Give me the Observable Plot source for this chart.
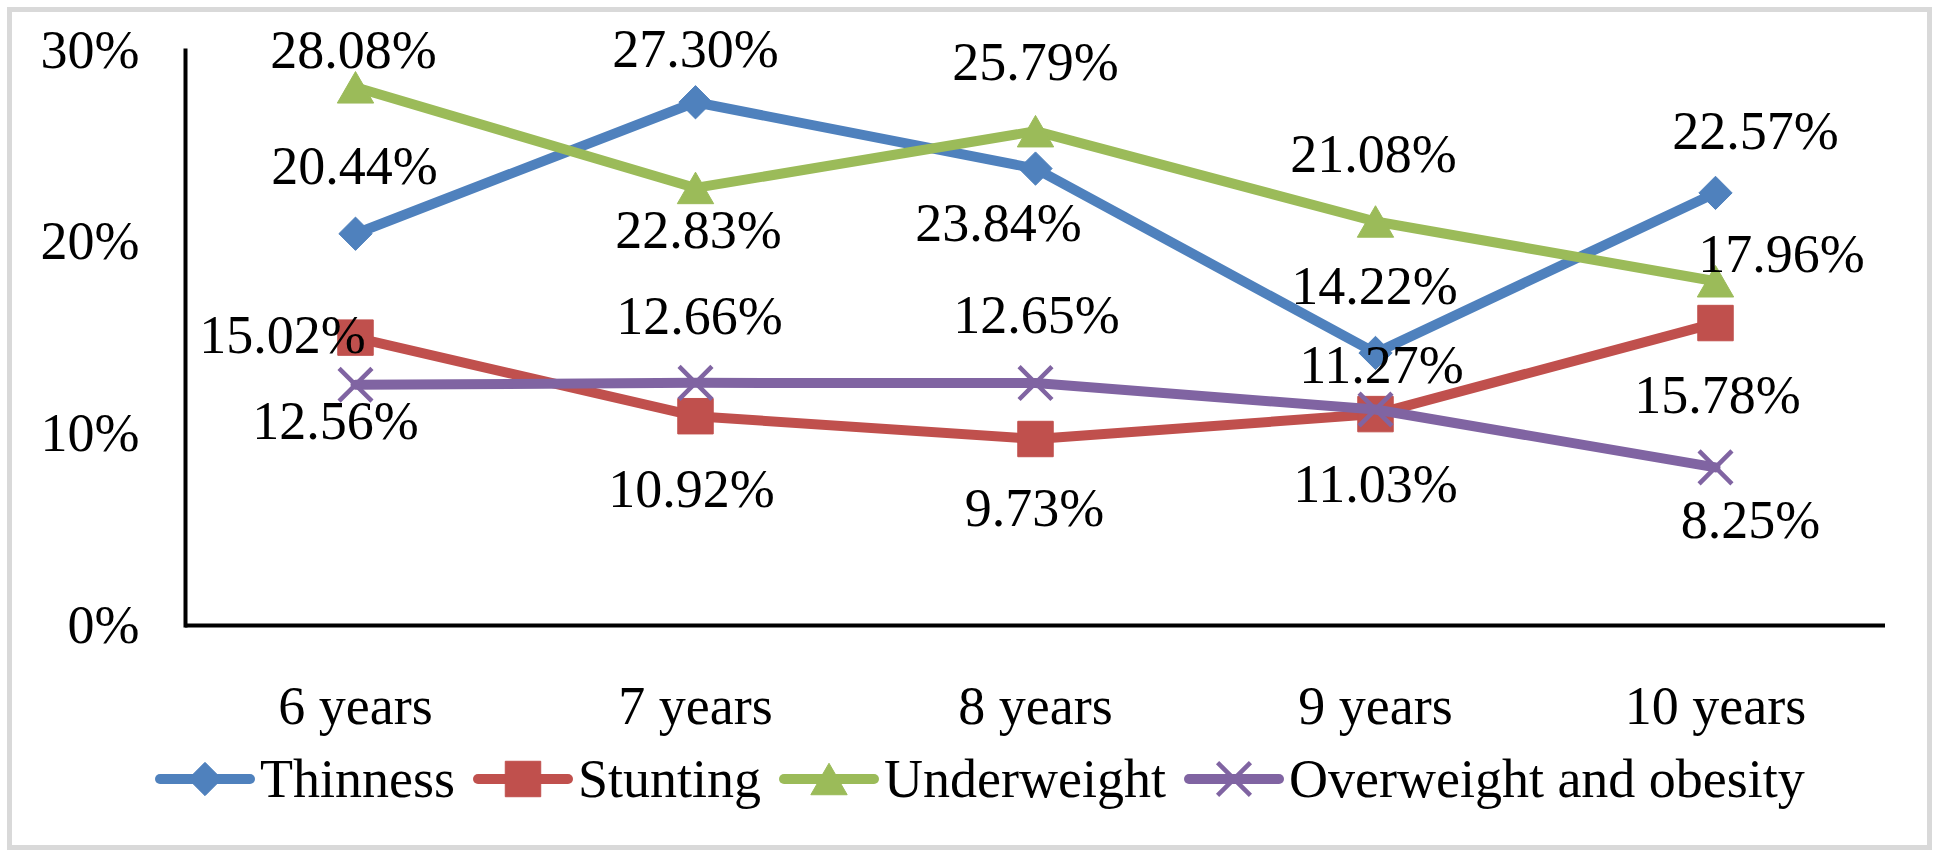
<!DOCTYPE html>
<html><head><meta charset="utf-8">
<script src="https://cdn.jsdelivr.net/npm/d3@7"></script>
<script src="https://cdn.jsdelivr.net/npm/@observablehq/plot@0.6"></script>
<style>
html,body{margin:0;padding:0;background:#fff;width:1937px;height:857px;overflow:hidden;font-family:"Liberation Serif","Times New Roman",serif;}
#border{position:absolute;left:7px;top:7px;width:1925px;height:843px;box-sizing:border-box;border:5px solid #d9d9d9;}
#chart{position:absolute;left:0;top:0;}
#legend{position:absolute;left:155px;top:751px;height:56px;display:flex;align-items:center;font-size:54px;line-height:56px;white-space:nowrap;color:#000;}
.item{display:flex;align-items:center;margin-right:18px;}
.item svg{margin-right:5px;display:block;}
</style></head><body>
<div id="border"></div><div id="chart"></div><div id="legend"></div>
<script>
// ---- data ----
const categories = ["6 years", "7 years", "8 years", "9 years", "10 years"];
const seriesNames = ["Thinness", "Stunting", "Underweight", "Overweight and obesity"];
const thinness = [20.44, 27.30, 23.84, 14.22, 22.57];
const stunting = [15.02, 10.92, 9.73, 11.03, 15.78];
const underweight = [28.08, 22.83, 25.79, 21.08, 17.96];
const overweight = [12.56, 12.66, 12.65, 11.27, 8.25];
const yTicks = [0, 10, 20, 30];
const yTickLabels = ["0%", "10%", "20%", "30%"];

// ---- styling / layout ----
const seriesValues = [thinness, stunting, underweight, overweight];
const styles = {
  "Thinness": {color: "#4F81BD", symbol: "diamond2", r: 15, dy: 0},
  "Stunting": {color: "#C0504D", symbol: "square", r: 20, dy: 0},
  "Underweight": {color: "#9BBB59", symbol: "triangle", r: 13.5, dy: 5.25},
  "Overweight and obesity": {color: "#8064A2", symbol: "times", r: 15, dy: 0}
};
// data label offsets (dx, baseline dy) relative to each point, as placed in the original
const labelOffsets = {
  "Thinness": [[-1, -50], [0, -35], [-37, 72], [-1, -49], [40, -44]],
  "Stunting": [[-73, 15], [-4, 91], [-1, 87], [0, 88], [2, 90]],
  "Underweight": [[-2, -19], [3, 60], [0, -51], [-2, -49], [66, -9]],
  "Overweight and obesity": [[-20, 54], [4, -49], [1, -50], [6, -26], [35, 71]]
};
const FONT = "Liberation Serif, Times New Roman, serif";
const FS = 54;

const rows = [];
seriesNames.forEach((s, i) => categories.forEach((c, j) => rows.push({series: s, cat: c, value: seriesValues[i][j], j})));

const marks = [
  Plot.ruleY([0], {stroke: "#000", strokeWidth: 4}),
  Plot.frame({anchor: "left", stroke: "#000", strokeWidth: 4}),
  Plot.axisY({ticks: yTicks, tickFormat: d => yTickLabels[yTicks.indexOf(d)], tickSize: 0, tickPadding: 46, fontSize: FS, fontFamily: FONT, fill: "#000", label: null}),
  Plot.axisX({tickSize: 0, tickPadding: 60, fontSize: FS, fontFamily: FONT, fill: "#000", label: null})
];
for (const s of seriesNames) {
  const st = styles[s];
  const d = rows.filter(r => r.series === s);
  marks.push(Plot.line(d, {x: "cat", y: "value", stroke: st.color, strokeWidth: 10, strokeLinejoin: "round", strokeLinecap: "round"}));
  if (st.symbol === "times") {
    marks.push(Plot.dot(d, {x: "cat", y: "value", symbol: st.symbol, r: st.r, stroke: st.color, strokeWidth: 4.5, fill: "none"}));
  } else {
    marks.push(Plot.dot(d, {x: "cat", y: "value", symbol: st.symbol, r: st.r, fill: st.color, stroke: st.color, strokeWidth: 1, dy: st.dy}));
  }
}
for (const s of seriesNames) {
  const d = rows.filter(r => r.series === s);
  d.forEach((row, j) => {
    const [dx, dy] = labelOffsets[s][j];
    marks.push(Plot.text([row], {x: "cat", y: "value", text: r => r.value.toFixed(2) + "%", dx, dy,
      lineAnchor: "bottom", textAnchor: "middle", fontSize: FS, fontFamily: FONT, fill: "#000"}));
  });
}

const chart = Plot.plot({
  width: 1937,
  height: 750,
  marginLeft: 185,
  marginRight: 52,
  marginTop: 50,
  marginBottom: 125,
  x: {type: "point", domain: categories, padding: 0.5},
  y: {domain: [0, 30]},
  style: {fontFamily: FONT, fontSize: FS + "px", background: "transparent", color: "#000", overflow: "visible"},
  marks
});
document.getElementById("chart").appendChild(chart);

// ---- legend ----
const legend = d3.select("#legend");
const symMap = {diamond2: d3.symbolDiamond2, square: d3.symbolSquare, triangle: d3.symbolTriangle, times: d3.symbolTimes};
for (const s of seriesNames) {
  const st = styles[s];
  const item = legend.append("div").attr("class", "item");
  const svg = item.append("svg").attr("width", 100).attr("height", 56);
  svg.append("line").attr("x1", 5).attr("x2", 95).attr("y1", 28).attr("y2", 28)
    .attr("stroke", st.color).attr("stroke-width", 10).attr("stroke-linecap", "round");
  const path = d3.symbol(symMap[st.symbol], Math.PI * st.r * st.r)();
  const p = svg.append("path").attr("d", path).attr("transform", `translate(50,${28 + st.dy})`);
  if (st.symbol === "times") p.attr("fill", "none").attr("stroke", st.color).attr("stroke-width", 4.5);
  else p.attr("fill", st.color).attr("stroke", st.color).attr("stroke-width", 1);
  item.append("span").text(s);
}
</script>
</body></html>
